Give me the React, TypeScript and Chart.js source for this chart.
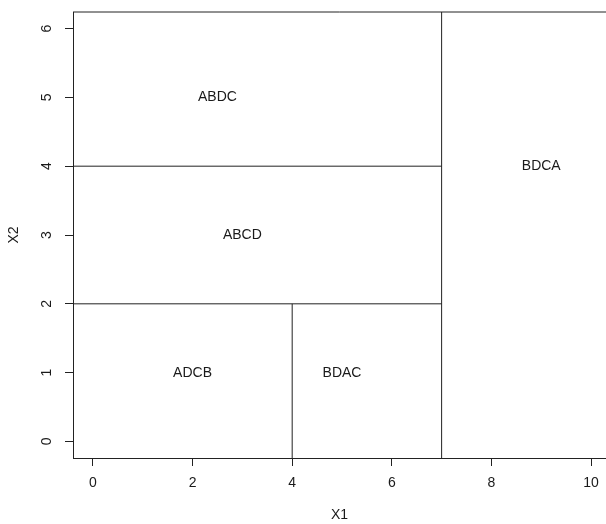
import React, { useEffect, useRef } from "react";
import { Chart, registerables } from "chart.js";

Chart.register(...registerables);

// Axis ranges (R usr limits) and tick values
const xRange = [-0.4, 10.3];
const yRange = [-0.24, 6.24];
const xTicks = [0, 2, 4, 6, 8, 10];
const yTicks = [0, 1, 2, 3, 4, 5, 6];

// Partition boundaries (vertical splits on X1, horizontal splits on X2)
const vSplitX = [7, 4];
const vSplitFrom = [-0.24, -0.24];
const vSplitTo = [6.24, 2];
const hSplitY = [4, 2, 6.24];
const hSplitFrom = [-0.4, -0.4, -0.4];
const hSplitTo = [7, 7, 10.3];

// Leaf labels
const regionLabels = ["ABDC", "ABCD", "ADCB", "BDAC", "BDCA"];
const labelX = [2.5, 3, 2, 5, 9];
const labelY = [5, 3, 1, 1, 4];

const FONT = "'Liberation Sans', Arial, Helvetica, sans-serif";
const TEXT = "#1a1a1a";
const LINE = "#222222";

export default function App() {
  const ref = useRef<HTMLCanvasElement | null>(null);

  useEffect(() => {
    document.body.style.margin = "0";
    const canvas = ref.current;
    if (!canvas) return;

    const datasets: any[] = [];
    vSplitX.forEach((x, i) => {
      datasets.push({
        type: "line",
        data: [
          { x, y: vSplitFrom[i] },
          { x, y: vSplitTo[i] },
        ],
        borderColor: LINE,
        borderWidth: 1,
        pointRadius: 0,
        clip: false,
      });
    });
    hSplitY.forEach((y, i) => {
      datasets.push({
        type: "line",
        data: [
          { x: hSplitFrom[i], y },
          { x: hSplitTo[i], y },
        ],
        borderColor: LINE,
        borderWidth: 1,
        pointRadius: 0,
        clip: false,
      });
    });

    const textPlugin = {
      id: "regionText",
      afterDatasetsDraw(chart: any) {
        const { ctx, scales } = chart;
        ctx.save();
        ctx.font = `14px ${FONT}`;
        ctx.fillStyle = TEXT;
        ctx.textAlign = "center";
        ctx.textBaseline = "middle";
        regionLabels.forEach((t, i) => {
          ctx.fillText(
            t,
            scales.x.getPixelForValue(labelX[i]),
            scales.y.getPixelForValue(labelY[i])
          );
        });
        ctx.restore();
      },
    };

    const chart = new Chart(canvas, {
      type: "line",
      data: { datasets },
      plugins: [textPlugin],
      options: {
        animation: false,
        responsive: false,
        events: [],
        layout: { padding: { top: 12, left: 0, right: 0, bottom: 0 } },
        plugins: { legend: { display: false }, tooltip: { enabled: false } },
        scales: {
          x: {
            type: "linear",
            min: xRange[0],
            max: xRange[1],
            afterBuildTicks: (s: any) => {
              s.ticks = xTicks.map((v) => ({ value: v }));
            },
            afterFit: (s: any) => {
              s.height = 66;
              s.paddingLeft = 0;
              s.paddingRight = 0;
              s.paddingTop = 0;
              s.paddingBottom = 0;
            },
            grid: {
              drawOnChartArea: false,
              drawTicks: true,
              tickLength: 8,
              color: LINE,
              lineWidth: 1,
            },
            border: { display: true, color: LINE, width: 1 },
            ticks: {
              color: TEXT,
              font: { family: FONT, size: 14 },
              padding: 9,
              maxRotation: 0,
              minRotation: 0,
              callback: (v: any) => String(v),
            },
            title: {
              display: true,
              text: "X1",
              color: TEXT,
              font: { family: FONT, size: 14 },
              padding: { top: 0, bottom: 0 },
            },
          },
          y: {
            type: "linear",
            min: yRange[0],
            max: yRange[1],
            afterBuildTicks: (s: any) => {
              s.ticks = yTicks.map((v) => ({ value: v }));
            },
            afterFit: (s: any) => {
              s.width = 73;
              s.paddingLeft = 0;
              s.paddingRight = 0;
              s.paddingTop = 0;
              s.paddingBottom = 0;
            },
            grid: {
              drawOnChartArea: false,
              drawTicks: true,
              tickLength: 8,
              color: LINE,
              lineWidth: 1,
            },
            border: { display: true, color: LINE, width: 1 },
            ticks: {
              color: TEXT,
              font: { family: FONT, size: 14 },
              padding: 14,
              minRotation: 90,
              maxRotation: 90,
              crossAlign: "center",
              callback: (v: any) => String(v),
            },
            title: {
              display: true,
              text: "X2",
              color: TEXT,
              font: { family: FONT, size: 14 },
              padding: { top: 6, bottom: 0 },
            },
          },
        },
      } as any,
    });

    return () => chart.destroy();
  }, []);

  return (
    <div style={{ width: 606, height: 524, background: "#fff" }}>
      <canvas ref={ref} width={606} height={524} style={{ display: "block" }} />
    </div>
  );
}
